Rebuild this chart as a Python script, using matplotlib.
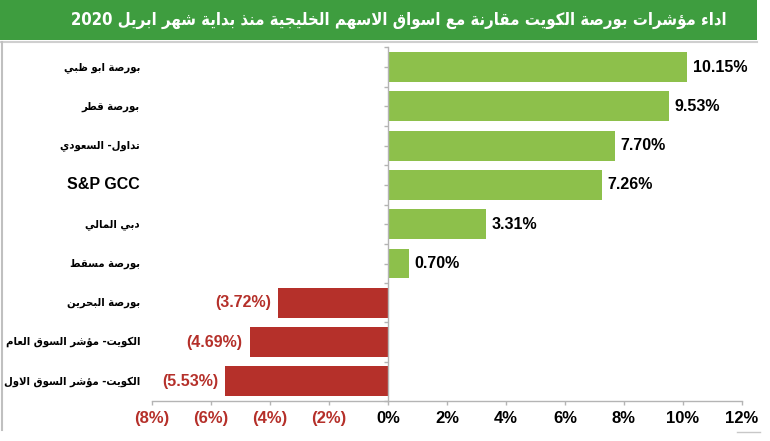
import matplotlib
matplotlib.use("Agg")
import matplotlib.pyplot as plt
import matplotlib.transforms as mtransforms
from matplotlib.patches import Rectangle
from matplotlib.lines import Line2D
from matplotlib import font_manager as fm

# ---------------- data ----------------
title = "اداء مؤشرات بورصة الكويت مقارنة مع اسواق الاسهم الخليجية منذ بداية شهر ابريل 2020"
categories = [
    "بورصة ابو ظبي",
    "بورصة قطر",
    "تداول- السعودي",
    "S&P GCC",
    "دبي المالي",
    "بورصة مسقط",
    "بورصة البحرين",
    "الكويت- مؤشر السوق العام",
    "الكويت- مؤشر السوق الاول",
]
values = [10.15, 9.53, 7.70, 7.26, 3.31, 0.70, -3.72, -4.69, -5.53]
xticks = [-8, -6, -4, -2, 0, 2, 4, 6, 8, 10, 12]

# ---------------- simple Arabic shaping ----------------
_TABLE = [
    (0x0621, 0xFE80, 1), (0x0622, 0xFE81, 2), (0x0623, 0xFE83, 2), (0x0624, 0xFE85, 2),
    (0x0625, 0xFE87, 2), (0x0626, 0xFE89, 4), (0x0627, 0xFE8D, 2), (0x0628, 0xFE8F, 4),
    (0x0629, 0xFE93, 2), (0x062A, 0xFE95, 4), (0x062B, 0xFE99, 4), (0x062C, 0xFE9D, 4),
    (0x062D, 0xFEA1, 4), (0x062E, 0xFEA5, 4), (0x062F, 0xFEA9, 2), (0x0630, 0xFEAB, 2),
    (0x0631, 0xFEAD, 2), (0x0632, 0xFEAF, 2), (0x0633, 0xFEB1, 4), (0x0634, 0xFEB5, 4),
    (0x0635, 0xFEB9, 4), (0x0636, 0xFEBD, 4), (0x0637, 0xFEC1, 4), (0x0638, 0xFEC5, 4),
    (0x0639, 0xFEC9, 4), (0x063A, 0xFECD, 4), (0x0641, 0xFED1, 4), (0x0642, 0xFED5, 4),
    (0x0643, 0xFED9, 4), (0x0644, 0xFEDD, 4), (0x0645, 0xFEE1, 4), (0x0646, 0xFEE5, 4),
    (0x0647, 0xFEE9, 4), (0x0648, 0xFEED, 2), (0x0649, 0xFEEF, 2), (0x064A, 0xFEF1, 4),
]
FORMS = {chr(c): (s, n) for c, s, n in _TABLE}
LAMALEF = {"\u0627": (0xFEFB, 0xFEFC), "\u0623": (0xFEF7, 0xFEF8),
           "\u0625": (0xFEF9, 0xFEFA), "\u0622": (0xFEF5, 0xFEF6)}


def _jt(c):
    if c == "\u0640":
        return 4
    return FORMS[c][1] if c in FORMS else 0


def shape(word):
    out = []
    i = 0
    n = len(word)
    while i < n:
        c = word[i]
        if c not in FORMS:
            out.append(c)
            i += 1
            continue
        prev = word[i - 1] if i > 0 else ""
        pc = _jt(prev) == 4 and _jt(c) >= 2
        nxt = word[i + 1] if i + 1 < n else ""
        if c == "\u0644" and nxt in LAMALEF:
            out.append(chr(LAMALEF[nxt][1 if pc else 0]))
            i += 2
            continue
        nc = _jt(c) == 4 and _jt(nxt) >= 2
        start, cnt = FORMS[c]
        if cnt == 1:
            idx = 0
        elif pc and nc:
            idx = 3
        elif pc:
            idx = 1
        elif nc:
            idx = 2
        else:
            idx = 0
        out.append(chr(start + idx))
        i += 1
    return "".join(out)


def is_arabic(s):
    return any("\u0600" <= ch <= "\u06FF" for ch in s)


def visual(s):
    if not is_arabic(s):
        return s
    res = []
    for w in s.split(" ")[::-1]:
        res.append(shape(w)[::-1] if is_arabic(w) else w)
    return " ".join(res)


def pct(v):
    return f"({abs(v):.2f}%)" if v < 0 else f"{v:.2f}%"


def tick_pct(v):
    return f"({abs(v):d}%)" if v < 0 else f"{v:d}%"


# pick a condensed DejaVu bold if the system has one (narrower Arabic glyphs)
AR_FONT = dict(family="DejaVu Sans", fontweight="bold")
for f in fm.fontManager.ttflist:
    if "DejaVu Sans" in f.name and "ondensed" in (f.fname + f.name) and f.weight in ("bold", 700):
        AR_FONT = dict(fontproperties=fm.FontProperties(fname=f.fname))
        break

# ---------------- figure ----------------
W, H = 770, 441
fig = plt.figure(figsize=(W / 100, H / 100), dpi=100)
fig.patch.set_facecolor("white")

GREEN_T = "#3e9d3f"
GREEN_B = "#8dc04b"
RED = "#b5302a"
GRAY = "#b4b4b4"

# title bar
fig.patches.append(Rectangle((0, 1 - 40 / H), 757 / W, 40 / H, transform=fig.transFigure,
                             facecolor=GREEN_T, edgecolor="none", zorder=0))
title_txt = fig.text(399 / W, 1 - 20 / H, visual(title), color="white",
                     ha="center", va="center", **AR_FONT)
title_txt.set_fontsize(15)
# frame lines
fig.lines.append(Line2D([0, 757 / W], [1 - 42 / H, 1 - 42 / H], transform=fig.transFigure,
                        color="#cfcfcf", lw=1.5))
fig.lines.append(Line2D([1.5 / W, 1.5 / W], [1 - 42 / H, 1 - 430 / H], transform=fig.transFigure,
                        color="#c0c0c0", lw=1.5))
fig.lines.append(Line2D([737 / W, 760 / W], [1 - 432 / H, 1 - 432 / H], transform=fig.transFigure,
                        color="#c8c8c8", lw=1.0))

ax = fig.add_axes([152 / W, 1 - 401 / H, (742 - 152) / W, (401 - 47.5) / H])
ypos = list(range(len(categories)))
colors = [GREEN_B if v >= 0 else RED for v in values]
ax.barh(ypos, values, height=0.76, color=colors, zorder=2)

ax.set_xlim(xticks[0], xticks[-1])
ax.set_ylim(len(categories) - 0.5, -0.5)

for s in ["top", "right"]:
    ax.spines[s].set_visible(False)
ax.spines["left"].set_position(("data", 0))
ax.spines["left"].set_color(GRAY)
ax.spines["bottom"].set_color(GRAY)
ax.spines["left"].set_linewidth(1.0)
ax.spines["bottom"].set_linewidth(1.0)

yt = [k / 2 - 0.5 for k in range(2 * len(categories) + 1)]
ax.set_yticks(yt)
ax.set_yticklabels([])
ax.tick_params(axis="y", direction="out", length=3, color=GRAY, width=1)

ax.set_xticks(xticks)
ax.set_xticklabels([tick_pct(v) for v in xticks])
ax.tick_params(axis="x", direction="out", length=3, color=GRAY, width=1, pad=4)
for lab, v in zip(ax.get_xticklabels(), xticks):
    lab.set_fontfamily("Liberation Sans")
    lab.set_fontweight("bold")
    lab.set_fontsize(12)
    lab.set_color(RED if v < 0 else "black")

for y, v in zip(ypos, values):
    if v >= 0:
        ax.annotate(pct(v), (v, y), xytext=(4, 0), textcoords="offset points",
                    ha="left", va="center", fontsize=11.5, fontweight="bold",
                    family="Liberation Sans", color="black")
    else:
        ax.annotate(pct(v), (v, y), xytext=(-5, 0), textcoords="offset points",
                    ha="right", va="center", fontsize=11.5, fontweight="bold",
                    family="Liberation Sans", color=RED)

# category labels at the far left
trans = mtransforms.blended_transform_factory(fig.transFigure, ax.transData)
cat_txts = []
for y, c in zip(ypos, categories):
    ar = is_arabic(c)
    if ar:
        t = ax.text(140 / W, y, visual(c), transform=trans, ha="right", va="center",
                    color="black", clip_on=False, **AR_FONT)
        t.set_fontsize(10.5)
    else:
        t = ax.text(140 / W, y, c, transform=trans, ha="right", va="center",
                    fontsize=11.5, fontweight="bold", family="Liberation Sans",
                    color="black", clip_on=False)
    cat_txts.append((t, ar))

# fit text widths to the space available
fig.canvas.draw()
r = fig.canvas.get_renderer()
w = title_txt.get_window_extent(r).width
title_txt.set_fontsize(title_txt.get_fontsize() * min(1.0, 660 / w))
maxw = max(t.get_window_extent(r).width for t, ar in cat_txts if ar)
scale = min(1.0, 138 / maxw)
for t, ar in cat_txts:
    if ar:
        t.set_fontsize(t.get_fontsize() * scale)

fig.savefig("out.png", dpi=100, facecolor="white")
